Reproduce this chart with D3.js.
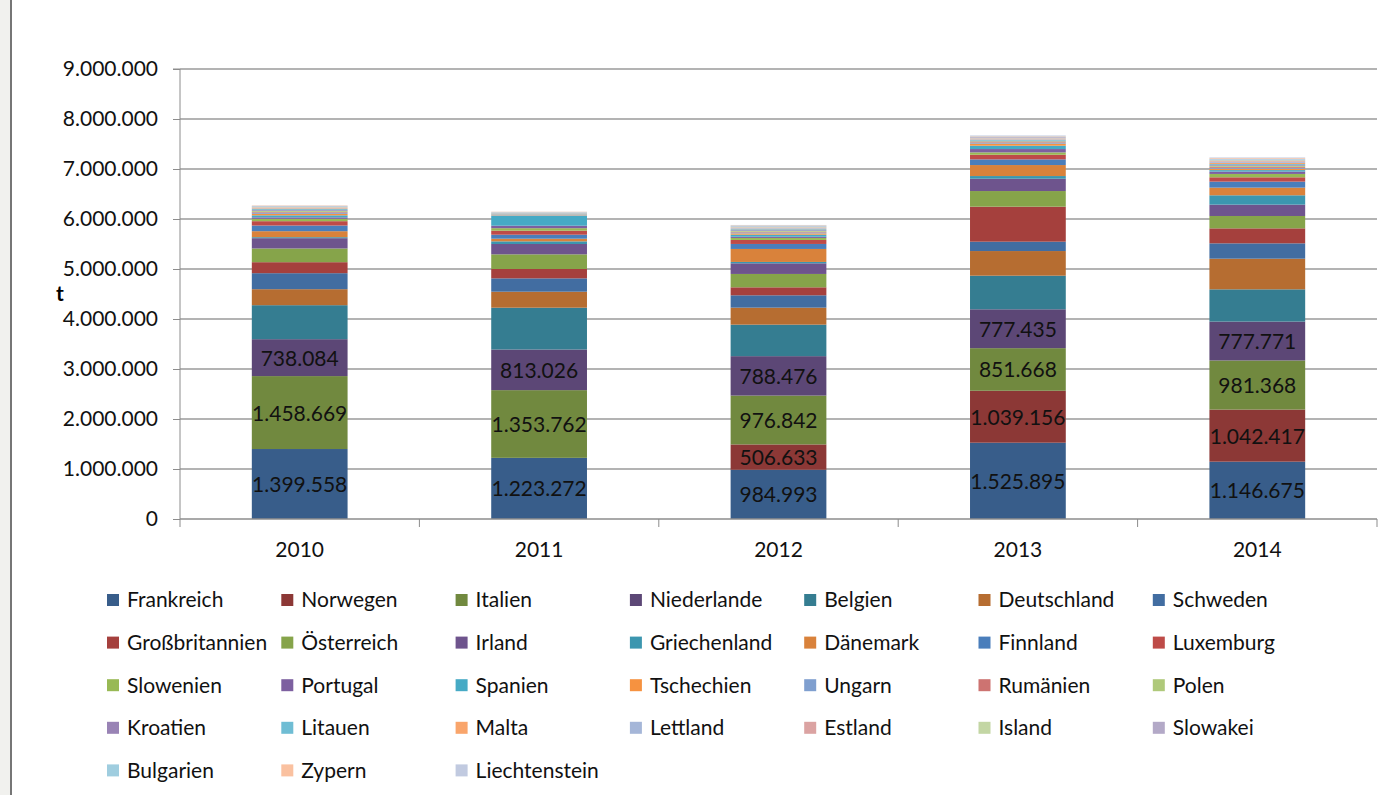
<!DOCTYPE html>
<html>
<head>
<meta charset="utf-8">
<script src="https://cdn.jsdelivr.net/npm/d3@7"></script>
<style>
  body { margin: 0; background: #fff; }
  svg { display: block; font-family: Lato, "Noto Sans", sans-serif; }
</style>
</head>
<body>
<svg id="chart" width="1387" height="795"></svg>
<script>
const years = ['2010', '2011', '2012', '2013', '2014'];

const countries = ['Frankreich', 'Norwegen', 'Italien', 'Niederlande', 'Belgien', 'Deutschland', 'Schweden',
    'Großbritannien', 'Österreich', 'Irland', 'Griechenland', 'Dänemark', 'Finnland', 'Luxemburg',
    'Slowenien', 'Portugal', 'Spanien', 'Tschechien', 'Ungarn', 'Rumänien', 'Polen',
    'Kroatien', 'Litauen', 'Malta', 'Lettland', 'Estland', 'Island', 'Slowakei',
    'Bulgarien', 'Zypern', 'Liechtenstein'];

const colors = ['#385D8A', '#8C3836', '#71893F', '#5C4776', '#357D91', '#B66D31', '#426DA1',
    '#A5403D', '#86A44A', '#6E548D', '#3C96AF', '#D9823B', '#4A7EBB', '#BE4B48',
    '#98B954', '#7D60A0', '#46AAC5', '#F69240', '#7F9FCF', '#CD7371', '#AFC97A',
    '#9983B5', '#6FBDD4', '#F9A56B', '#A5B6D8', '#DBA3A2', '#C3D6A4', '#B3A9C7',
    '#9FCDDF', '#FAC1A0', '#C1CAE0'];

// tonnes per country, same order as countries
const v2010 = [1399558, 0, 1458669, 738084, 680000, 320000, 320000, 220000, 274000, 206000, 20000, 120000, 113000, 87000,
    47000, 30000, 40000, 30000, 25000, 15000, 20000, 15000, 20000, 15000, 10000, 10000, 10000, 10000, 8000, 8000, 2000];
const v2011 = [1223272, 0, 1353762, 813026, 836000, 320000, 267000, 187000, 293000, 207000, 53000, 53000, 80000, 80000,
    50000, 50000, 200000, 8000, 8000, 5000, 6000, 4000, 12000, 5000, 5000, 4000, 4000, 4000, 7000, 6000, 2000];
const v2012 = [984993, 506633, 976842, 788476, 630000, 340000, 247000, 160000, 267000, 213000, 27000, 260000, 100000, 80000,
    40000, 25000, 40000, 25000, 20000, 15000, 15000, 15000, 20000, 12000, 15000, 10000, 10000, 10000, 15000, 8000, 5000];
const v2013 = [1525895, 1039156, 851668, 777435, 672000, 493000, 187000, 700000, 313000, 247000, 53000, 220000, 113000, 93000,
    47000, 67000, 67000, 40000, 20000, 12000, 15000, 10000, 15000, 12000, 15000, 10000, 10000, 15000, 10000, 8000, 12000];
const v2014 = [1146675, 1042417, 981368, 777771, 645000, 613000, 307000, 300000, 247000, 227000, 187000, 153000, 120000, 87000,
    67000, 47000, 30000, 25000, 20000, 20000, 20000, 15000, 20000, 25000, 20000, 15000, 15000, 15000, 15000, 15000, 12000];

const yTicks = [0, 1000000, 2000000, 3000000, 4000000, 5000000, 6000000, 7000000, 8000000, 9000000];
const labelledSeries = ['Frankreich', 'Norwegen', 'Italien', 'Niederlande'];

// build the table d3.stack wants
const byYear = [v2010, v2011, v2012, v2013, v2014];
const table = years.map((yr, i) => {
    const row = { year: yr };
    countries.forEach((c, j) => { row[c] = byYear[i][j]; });
    return row;
});

const de = d3.formatLocale({ decimal: ',', thousands: '.', grouping: [3], currency: ['', ' €'] });
const fmt = de.format(',d');

const svg = d3.select('#chart');
const plotLeft = 180, plotRight = 1377, plotTop = 69, plotBottom = 519;
const fontSize = 21;

// window frame on the left
svg.append('rect').attr('x', 0).attr('y', 0).attr('width', 10).attr('height', 795).attr('fill', '#f1f1ee');
svg.append('rect').attr('x', 10).attr('y', 0).attr('width', 2).attr('height', 795).attr('fill', '#767676');

const x = d3.scaleBand().domain(years).range([plotLeft, plotRight]);
const y = d3.scaleLinear().domain([0, 9000000]).range([plotBottom, plotTop]);
const color = d3.scaleOrdinal().domain(countries).range(colors);

// gridlines
svg.append('g')
    .selectAll('line')
    .data(yTicks.slice(1))
    .enter()
    .append('line')
    .attr('x1', plotLeft).attr('x2', plotRight)
    .attr('y1', d => y(d)).attr('y2', d => y(d))
    .attr('stroke', '#9a9a9a')
    .attr('stroke-width', 1.3);

// stacked bars
const series = d3.stack().keys(countries)(table);
const barW = x.bandwidth() * 0.4;

const layers = svg.append('g')
    .selectAll('g')
    .data(series)
    .enter()
    .append('g')
    .attr('fill', d => color(d.key));

layers.selectAll('rect')
    .data(d => d)
    .enter()
    .append('rect')
    .attr('x', d => x(d.data.year) + (x.bandwidth() - barW) / 2)
    .attr('width', barW)
    .attr('y', d => y(d[1]))
    .attr('height', d => y(d[0]) - y(d[1]));

// value labels on the four biggest series
const labelled = series.filter(s => labelledSeries.includes(s.key));
svg.append('g')
    .selectAll('g')
    .data(labelled)
    .enter()
    .append('g')
    .selectAll('text')
    .data(d => d.filter(p => p[1] - p[0] > 0))
    .enter()
    .append('text')
    .attr('x', d => x(d.data.year) + x.bandwidth() / 2)
    .attr('y', d => (y(d[0]) + y(d[1])) / 2)
    .attr('dy', '0.38em')
    .attr('text-anchor', 'middle')
    .attr('font-size', fontSize)
    .attr('fill', '#111')
    .text(d => fmt(d[1] - d[0]));

// y axis
const yAxis = svg.append('g')
    .attr('transform', `translate(${plotLeft},0)`)
    .call(d3.axisLeft(y).tickValues(yTicks).tickSize(7).tickPadding(15).tickFormat(fmt));
yAxis.select('.domain').attr('stroke', '#8c8c8c').attr('d', `M-7,${plotTop}H0V${plotBottom + 8}`);
yAxis.selectAll('.tick line').attr('stroke', '#8c8c8c');
yAxis.selectAll('.tick text').attr('font-size', fontSize).attr('fill', '#111').attr('font-family', 'Lato, "Noto Sans", sans-serif');

svg.append('text')
    .attr('x', 60).attr('y', 294)
    .attr('dy', '0.35em')
    .attr('text-anchor', 'middle')
    .attr('font-size', fontSize)
    .attr('font-weight', 'bold')
    .text('t');

// x axis: line, boundary ticks, year labels
const xAxis = svg.append('g');
xAxis.append('line')
    .attr('x1', plotLeft).attr('x2', plotRight)
    .attr('y1', plotBottom).attr('y2', plotBottom)
    .attr('stroke', '#8c8c8c').attr('stroke-width', 1.3);
xAxis.selectAll('.bound')
    .data(years.map(d => x(d) + x.bandwidth()))
    .enter()
    .append('line')
    .attr('class', 'bound')
    .attr('x1', d => d).attr('x2', d => d)
    .attr('y1', plotBottom).attr('y2', plotBottom + 8)
    .attr('stroke', '#8c8c8c');
xAxis.selectAll('.yr')
    .data(years)
    .enter()
    .append('text')
    .attr('class', 'yr')
    .attr('x', d => x(d) + x.bandwidth() / 2)
    .attr('y', 550)
    .attr('dy', '0.35em')
    .attr('text-anchor', 'middle')
    .attr('font-size', fontSize)
    .attr('fill', '#111')
    .text(d => d);

// legend, 7 columns
const legend = svg.append('g')
    .selectAll('g')
    .data(countries)
    .enter()
    .append('g')
    .attr('transform', (d, i) => `translate(${127 + (i % 7) * 174.3},${600 + Math.floor(i / 7) * 42.6})`);

legend.append('rect')
    .attr('x', -20).attr('y', -6)
    .attr('width', 12).attr('height', 12)
    .attr('fill', d => color(d));

legend.append('text')
    .attr('y', 0)
    .attr('dy', '0.35em')
    .attr('font-size', fontSize)
    .attr('fill', '#111')
    .text(d => d);
</script>
</body>
</html>
